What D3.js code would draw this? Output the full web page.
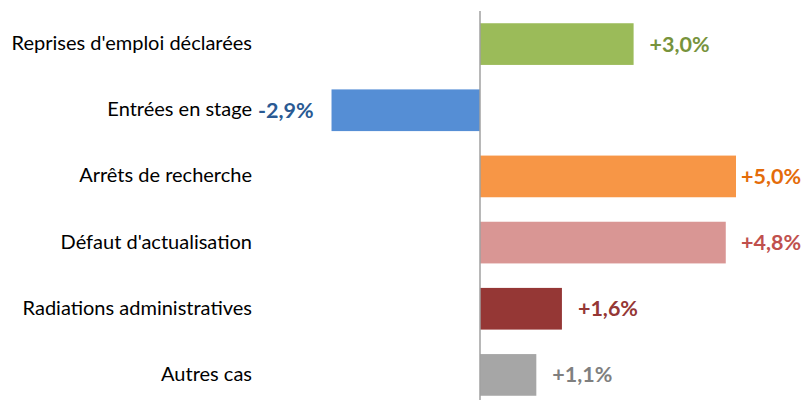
<!DOCTYPE html>
<html>
<head>
<meta charset="utf-8">
<script src="https://cdn.jsdelivr.net/npm/d3@7"></script>
<style>
  body { margin: 0; background: #fff; }
</style>
</head>
<body>
<div id="chart"></div>
<script>
// categories and values, top to bottom
var categories = ["Reprises d'emploi déclarées", "Entrées en stage", "Arrêts de recherche",
  "Défaut d'actualisation", "Radiations administratives", "Autres cas"];
var values = [3.0, -2.9, 5.0, 4.8, 1.6, 1.1];
var labels = ["+3,0%", "-2,9%", "+5,0%", "+4,8%", "+1,6%", "+1,1%"];
var barColors = ["#9BBB59", "#558ED5", "#F79646", "#D99694", "#953735", "#A6A6A6"];
var textColors = ["#77933C", "#2A5A93", "#E46C0A", "#C0504D", "#953735", "#7F7F7F"];

var width = 806, height = 400;

var svg = d3.select("#chart").append("svg")
  .attr("width", width)
  .attr("height", height);

var x = d3.scaleLinear()
  .domain([-3, 5])
  .range([326.4, 736]);

var y = d3.scaleBand()
  .domain(categories)
  .range([11, 408])
  .paddingInner(0.37)
  .paddingOuter(0.185);

var data = categories.map(function(c, i){
  return {cat: c, v: values[i], lab: labels[i], fill: barColors[i], tc: textColors[i]};
});

svg.selectAll("rect")
  .data(data)
  .enter()
  .append("rect")
  .attr("x", function(d){ return x(Math.min(0, d.v)); })
  .attr("y", function(d){ return y(d.cat); })
  .attr("width", function(d){ return Math.abs(x(d.v) - x(0)); })
  .attr("height", y.bandwidth())
  .attr("fill", function(d){ return d.fill; });

// zero line
svg.append("line")
  .attr("x1", x(0)).attr("x2", x(0))
  .attr("y1", 11).attr("y2", height)
  .attr("stroke", "#A0A0A0")
  .attr("stroke-width", 1.5);

// category labels
svg.selectAll("text.cat")
  .data(data)
  .enter()
  .append("text")
  .attr("class", "cat")
  .attr("x", 252)
  .attr("y", function(d){ return y(d.cat) + y.bandwidth() / 2 + 6; })
  .attr("text-anchor", "end")
  .style("font-family", "Lato, 'Open Sans', sans-serif")
  .style("font-size", "20px")
  .attr("fill", "#000")
  .text(function(d){ return d.cat; });

// value labels
svg.selectAll("text.val")
  .data(data)
  .enter()
  .append("text")
  .attr("class", "val")
  .attr("y", function(d){ return y(d.cat) + y.bandwidth() / 2 + 7.5; })
  .style("font-family", "Lato, 'Open Sans', sans-serif")
  .style("font-size", "21.5px")
  .attr("font-weight", "bold")
  .attr("fill", function(d){ return d.tc; })
  .text(function(d){ return d.lab; })
  .each(function(d){
    var w = this.getComputedTextLength();
    var px;
    if (d.v < 0) {
      px = x(d.v) - 18 - w;
    } else {
      px = Math.min(x(d.v) + 16, 801 - w);
    }
    d3.select(this).attr("x", px);
  });
</script>
</body>
</html>
